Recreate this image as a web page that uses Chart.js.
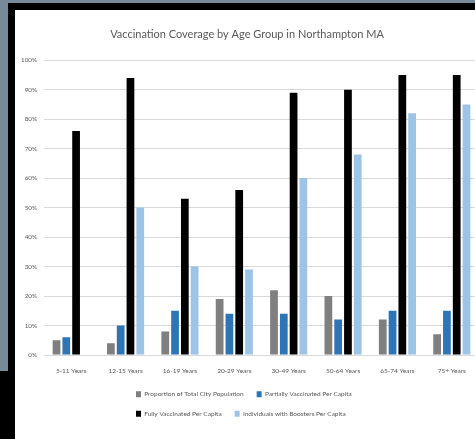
<!DOCTYPE html>
<html>
<head>
<meta charset="utf-8">
<script src="https://cdn.jsdelivr.net/npm/chart.js@4.4.1/dist/chart.umd.min.js"></script>
<style>
  html, body { margin: 0; padding: 0; width: 475px; height: 439px; overflow: hidden; background: #768b97; }
  #frame { position: absolute; left: 8px; top: 3px; width: 480px; height: 440px; background: #000; }
  #corner { position: absolute; left: 0; top: 371px; width: 15px; height: 68px; background: #000; }
  #wrap { position: absolute; left: 15px; top: 10px; width: 464px; height: 429px; background: #fff; }
</style>
</head>
<body>
<div id="frame"></div>
<div id="corner"></div>
<div id="wrap"><canvas id="chart"></canvas></div>
<script>
// categories and values (percent)
const ageGroups = ['5-11 Years', '12-15 Years', '16-19 Years', '20-29 Years', '30-49 Years', '50-64 Years', '65-74 Years', '75+ Years'];
const populationShare = [5, 4, 8, 19, 22, 20, 12, 7];
const partiallyVaccinated = [6, 10, 15, 14, 14, 12, 15, 15];
const fullyVaccinated = [76, 94, 53, 56, 89, 90, 95, 95];
const boosters = [null, 50, 30, 29, 60, 68, 82, 85];
const yTicks = [0, 10, 20, 30, 40, 50, 60, 70, 80, 90, 100];

const FONT = "Lato, 'Liberation Sans', sans-serif";
const textColor = '#595959';

// two legend rows, left aligned in a narrower box (like the Excel legend)
const twoRowLegend = {
    id: 'twoRowLegend',
    afterInit(chart) {
        const lg = chart.legend;
        const fit = lg.fit;
        lg.fit = function () {
            fit.call(this);
            this.height = 61;
        };
    },
    afterLayout(chart) {
        const lg = chart.legend;
        lg.left = 108;
        lg.right = 440;
        lg.width = lg.right - lg.left;
    }
};

const ctx = document.getElementById('chart').getContext('2d');
new Chart(ctx, {
    type: 'bar',
    data: {
        labels: ageGroups,
        datasets: [
            { label: 'Proportion of Total City Population', data: populationShare, backgroundColor: '#7f7f7f' },
            { label: 'Partially Vaccinated Per Capita', data: partiallyVaccinated, backgroundColor: '#2e75b6' },
            { label: 'Fully Vaccinated Per Capita', data: fullyVaccinated, backgroundColor: '#000000' },
            { label: 'Individuals with Boosters Per Capita', data: boosters, backgroundColor: '#9dc3e6' }
        ]
    },
    plugins: [twoRowLegend],
    options: {
        responsive: true,
        maintainAspectRatio: false,
        animation: false,
        categoryPercentage: 0.72,
        barPercentage: 0.79,
        layout: { padding: 0 },
        plugins: {
            title: {
                display: true,
                text: 'Vaccination Coverage by Age Group in Northampton MA',
                color: textColor,
                font: { family: FONT, size: 11, weight: 'normal' },
                padding: { top: 18, bottom: 19 }
            },
            legend: {
                position: 'bottom',
                align: 'start',
                labels: {
                    color: textColor,
                    font: { family: FONT, size: 6.5 },
                    boxWidth: 5,
                    boxHeight: 6,
                    padding: 13
                }
            },
            tooltip: { enabled: false }
        },
        scales: {
            x: {
                grid: { display: false, drawTicks: false },
                border: { color: '#d9d9d9' },
                ticks: { color: textColor, font: { family: FONT, size: 6.5 }, padding: 12, maxRotation: 0 },
                afterFit: s => { s.height = 23; }
            },
            y: {
                min: 0,
                max: 100,
                afterBuildTicks: s => { s.ticks = yTicks.map(v => ({ value: v })); },
                grid: { color: '#d9d9d9', drawTicks: false },
                border: { display: false },
                ticks: { color: textColor, font: { family: FONT, size: 6.3 }, padding: 7, callback: v => v + '%' },
                afterFit: s => { s.width = 29; }
            }
        }
    }
});
</script>
</body>
</html>
